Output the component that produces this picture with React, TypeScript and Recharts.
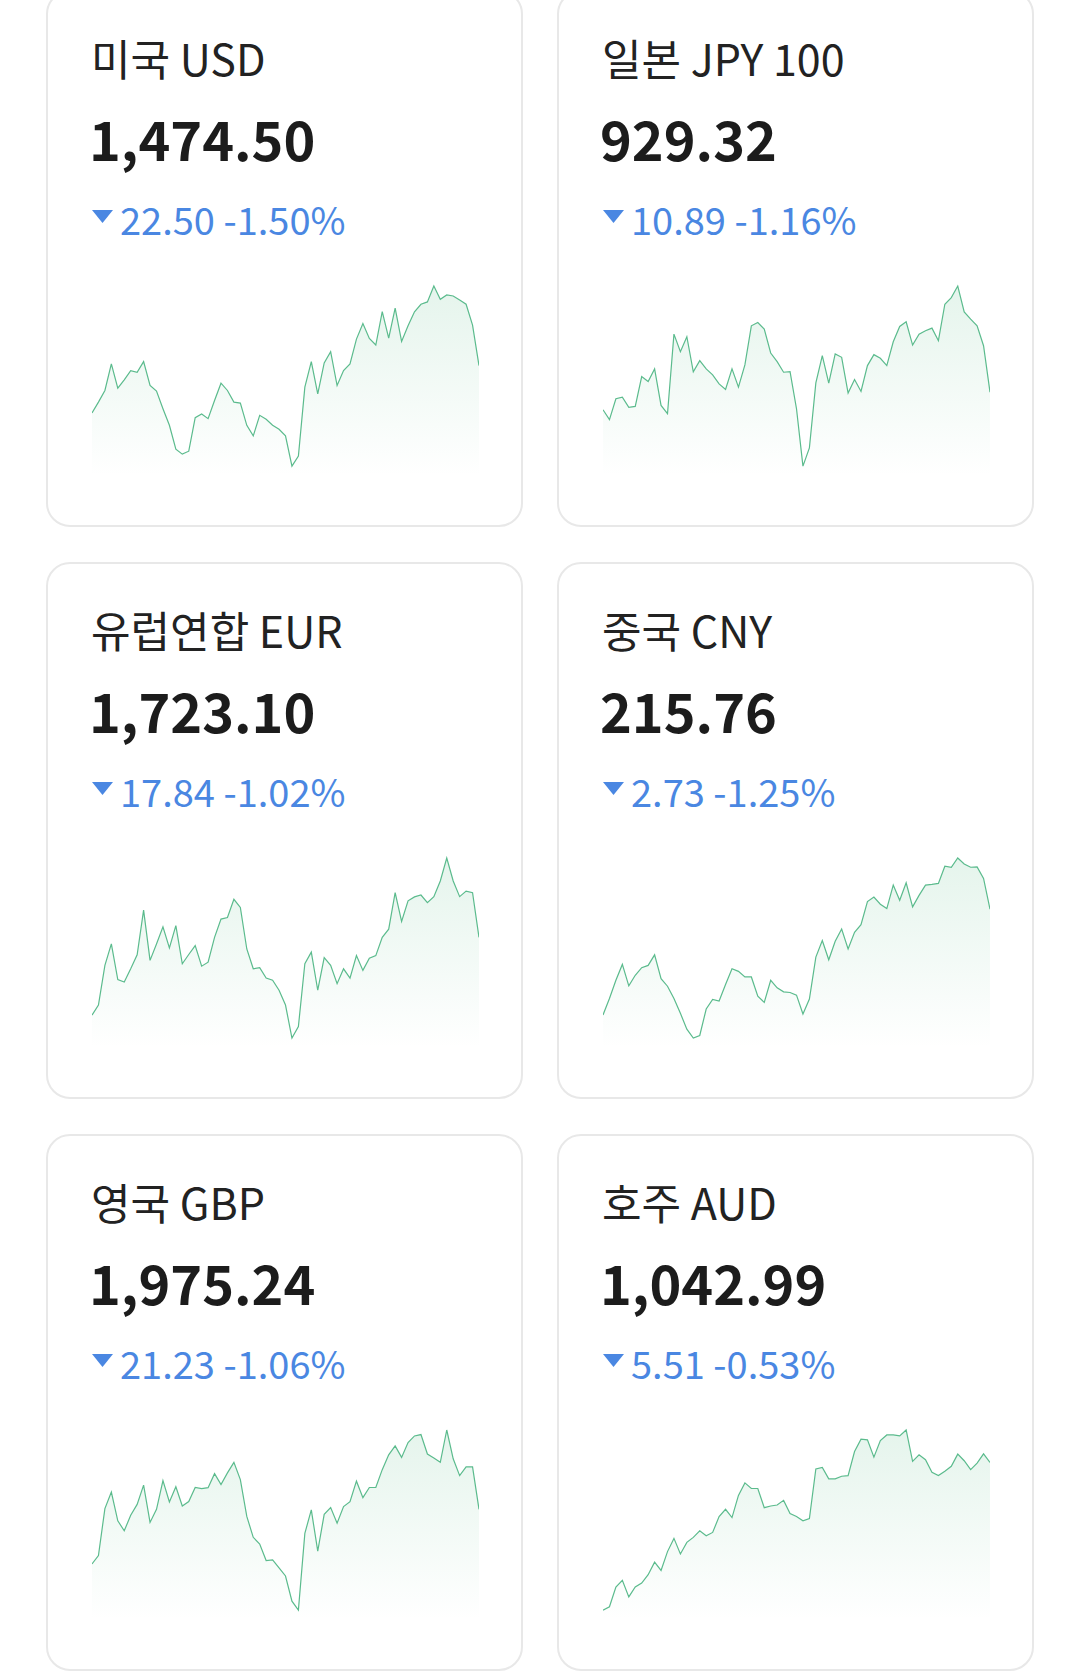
import React from 'react';
import { AreaChart, Area, XAxis, YAxis } from 'recharts';

// 환율 카드 라벨
const currencyNames = ['미국 USD', '일본 JPY 100', '유럽연합 EUR', '중국 CNY', '영국 GBP', '호주 AUD'];
const currentRates = ['1,474.50', '929.32', '1,723.10', '215.76', '1,975.24', '1,042.99'];
const changeValues = ['22.50', '10.89', '17.84', '2.73', '21.23', '5.51'];
const changePercents = ['-1.50%', '-1.16%', '-1.02%', '-1.25%', '-1.06%', '-0.53%'];

// 최근 61일 매매기준율 (그림에서 읽은 근사값)
const usdRates = [
    1445.9, 1452.5, 1459.5, 1475.5, 1460.9, 1465.9, 1471.5, 1470.5, 1476.9, 1462.5,
    1459.1, 1448.5, 1438.5, 1424.1, 1421.1, 1422.9, 1443.1, 1445.3, 1442.5, 1453.5,
    1463.9, 1459.5, 1452.5, 1451.9, 1438.5, 1432.1, 1444.5, 1442.1, 1438.5, 1436.1,
    1432.1, 1413.9, 1419.9, 1461.5, 1476.9, 1457.5, 1476.1, 1482.9, 1462.5, 1471.5,
    1475.5, 1490.5, 1499.9, 1490.9, 1486.9, 1507.1, 1491.1, 1509.1, 1489.1, 1498.5,
    1506.9, 1511.5, 1512.9, 1522.5, 1514.5, 1517.1, 1516.5, 1514.1, 1511.5, 1498.9,
    1474.5
];

const jpyRates = [
    925.08, 922.68, 927.72, 928.12, 925.64, 925.88, 933.08, 931.88, 934.92, 926.12,
    924.12, 943.32, 939.08, 942.68, 934.2, 936.92, 934.92, 933.48, 931.32, 929.96,
    934.92, 930.52, 935.88, 945.32, 946.12, 944.52, 938.76, 936.68, 934.12, 934.28,
    925.32, 911.48, 915.88, 931.56, 938.12, 931.48, 938.52, 937.72, 929.08, 932.36,
    929.48, 935.72, 938.36, 937.48, 935.72, 941.48, 945.16, 946.28, 940.68, 943.32,
    944.12, 944.76, 941.72, 950.52, 952.12, 954.92, 948.68, 946.92, 945.32, 940.52,
    929.32
];

const eurRates = [
    1693.7, 1697.5, 1712.5, 1720.6, 1707.1, 1706.2, 1711.2, 1716.5, 1733.4, 1714.4,
    1720.6, 1727.1, 1719.1, 1727.5, 1713.1, 1716.6, 1720.0, 1712.2, 1713.7, 1723.1,
    1730.0, 1730.6, 1737.5, 1734.4, 1718.7, 1711.2, 1711.6, 1707.7, 1706.9, 1703.1,
    1697.5, 1685.0, 1689.4, 1713.1, 1717.5, 1703.1, 1715.4, 1712.5, 1705.6, 1711.2,
    1707.7, 1716.2, 1710.6, 1715.2, 1716.2, 1723.1, 1726.2, 1740.0, 1729.1, 1736.9,
    1738.4, 1739.1, 1736.2, 1738.5, 1744.4, 1753.1, 1744.4, 1738.5, 1740.6, 1740.0,
    1723.1
];

const cnyRates = [
    206.16, 207.66, 209.31, 210.75, 208.8, 209.76, 210.45, 210.66, 211.62, 209.46,
    208.77, 207.66, 206.31, 204.87, 204.06, 204.3, 206.7, 207.57, 207.42, 208.92,
    210.36, 210.12, 209.61, 209.61, 207.87, 207.3, 209.31, 208.62, 208.26, 208.2,
    207.96, 206.25, 207.6, 211.41, 212.91, 211.17, 212.85, 213.96, 212.16, 213.66,
    214.35, 216.45, 216.87, 216.21, 215.82, 217.95, 216.57, 218.16, 215.97, 217.02,
    217.95, 218.01, 218.1, 219.66, 219.57, 220.41, 219.87, 219.57, 219.6, 218.55,
    215.76
];

const gbpRates = [
    1947.7, 1951.9, 1975.6, 1983.9, 1969.4, 1964.4, 1972.2, 1977.7, 1987.4, 1968.6,
    1975.2, 1989.7, 1978.9, 1986.6, 1976.9, 1979.1, 1986.2, 1985.6, 1986.1, 1993.2,
    1987.7, 1993.6, 1998.9, 1990.2, 1971.6, 1961.1, 1957.7, 1949.4, 1949.7, 1945.7,
    1941.6, 1928.9, 1924.4, 1963.1, 1974.9, 1954.1, 1972.7, 1976.1, 1968.2, 1976.6,
    1979.1, 1989.4, 1981.1, 1986.2, 1986.2, 1995.2, 2002.7, 2007.2, 2001.4, 2008.9,
    2012.2, 2012.9, 2003.1, 2001.1, 1998.9, 2015.2, 2000.7, 1992.2, 1996.6, 1996.6,
    1975.2
];

const audRates = [
    953.59, 955.59, 967.59, 971.59, 961.59, 967.59, 969.99, 974.99, 982.59, 977.59,
    988.99, 996.99, 987.59, 994.59, 997.59, 1001.59, 998.59, 1000.59, 1010.19, 1014.59,
    1009.59, 1022.99, 1030.59, 1027.19, 1027.19, 1015.59, 1016.59, 1017.19, 1019.99, 1011.99,
    1010.19, 1007.59, 1008.99, 1038.99, 1039.99, 1032.99, 1032.99, 1034.59, 1034.99, 1049.59,
    1056.99, 1056.59, 1046.19, 1056.19, 1059.59, 1059.59, 1058.99, 1062.59, 1043.59, 1047.59,
    1044.59, 1036.99, 1034.99, 1037.59, 1040.59, 1047.99, 1043.99, 1038.59, 1042.59, 1048.19,
    1042.99
];

const rateSeries = [usdRates, jpyRates, eurRates, cnyRates, gbpRates, audRates];

const FONT = "'Noto Sans CJK KR', 'Noto Sans', sans-serif";
const CARD_W = 477;
const CARD_H = 537;
const COL_X = [46, 557];
const ROW_Y = [-10, 562, 1134];

const Sparkline = ({ values, id }: { values: number[]; id: string }) => {
    const data = values.map((rate, day) => ({ day, rate }));
    const lo = Math.min(...values);
    const hi = Math.max(...values);

    return (
        <AreaChart
            width={387}
            height={192}
            data={data}
            margin={{ top: 2, right: 0, bottom: 0, left: 0 }}
        >
            <defs>
                <linearGradient id={`fill-${id}`} x1="0" y1="0" x2="0" y2="1">
                    <stop offset="0%" stopColor="#3aae70" stopOpacity={0.22} />
                    <stop offset="100%" stopColor="#3aae70" stopOpacity={0} />
                </linearGradient>
            </defs>
            <XAxis dataKey="day" hide />
            <YAxis hide domain={[lo - (hi - lo) * 0.055, hi]} />
            <Area
                type="linear"
                dataKey="rate"
                stroke="#5bbb8d"
                strokeWidth={1.2}
                fill={`url(#fill-${id})`}
                dot={false}
                activeDot={false}
                isAnimationActive={false}
            />
        </AreaChart>
    );
};

const CurrencyCard = ({ index }: { index: number }) => {
    const left = COL_X[index % 2];
    const top = ROW_Y[Math.floor(index / 2)];

    return (
        <div
            style={{
                position: 'absolute',
                left,
                top,
                width: CARD_W,
                height: CARD_H,
                boxSizing: 'border-box',
                border: '2px solid #e8e8e8',
                borderRadius: 24,
                background: '#fff'
            }}
        >
            <div style={{ position: 'absolute', left: 43, top: 44, fontSize: 43, lineHeight: 1, color: '#222', whiteSpace: 'nowrap' }}>
                {currencyNames[index]}
            </div>
            <div style={{ position: 'absolute', left: 41, top: 119, fontSize: 54, lineHeight: 1, fontWeight: 700, color: '#1c1c1c', whiteSpace: 'nowrap' }}>
                {currentRates[index]}
            </div>
            <svg style={{ position: 'absolute', left: 44, top: 218 }} width={22} height={14}>
                <polygon points="0,0 21,0 10.5,13" fill="#4a87e2" />
            </svg>
            <div style={{ position: 'absolute', left: 72, top: 208, fontSize: 38, lineHeight: 1, color: '#4a87e2', whiteSpace: 'nowrap' }}>
                {changeValues[index]} {changePercents[index]}
            </div>
            <div style={{ position: 'absolute', left: 44, top: 292 }}>
                <Sparkline values={rateSeries[index]} id={`c${index}`} />
            </div>
        </div>
    );
};

export default function App() {
    return (
        <div
            style={{
                position: 'absolute',
                left: 0,
                top: 0,
                width: 1080,
                height: 1672,
                overflow: 'hidden',
                background: '#fff',
                fontFamily: FONT
            }}
        >
            {currencyNames.map((_, i) => (
                <CurrencyCard key={i} index={i} />
            ))}
        </div>
    );
}
